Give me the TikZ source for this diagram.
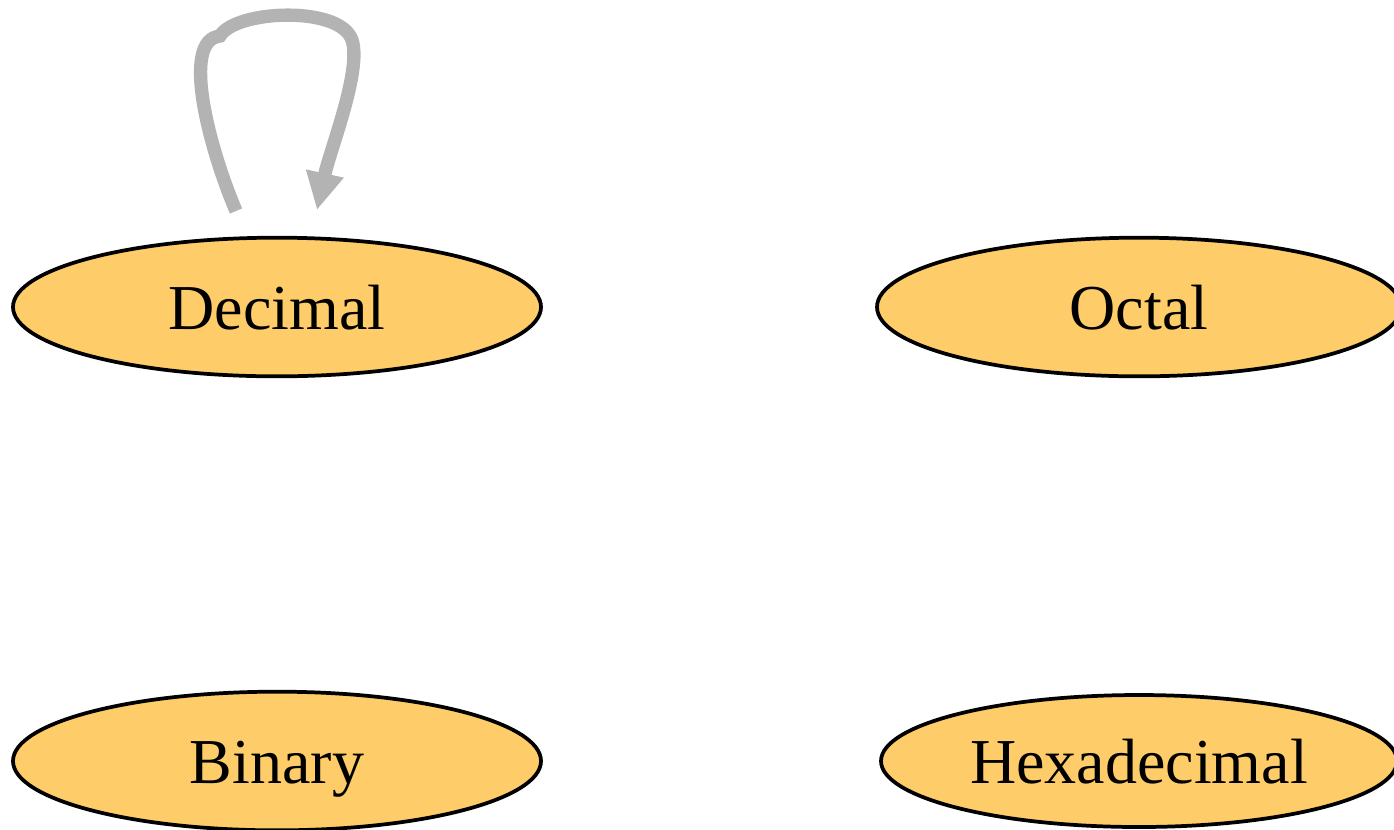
\documentclass[tikz,border=0pt]{standalone}
\usepackage{fontspec}
\setmainfont{Liberation Serif}
\usetikzlibrary{shapes.geometric,arrows.meta}
\definecolor{nodefill}{RGB}{254,204,104}
\definecolor{loopgray}{RGB}{179,179,179}
\tikzset{
  state/.style={ellipse, draw=black, fill=nodefill, line width=2.8pt, inner sep=0pt,
    text height=40pt, text depth=6.2pt,
    font=\fontsize{48}{56}\selectfont},
  loopline/.style={draw=loopgray, line width=10pt,
    -{Triangle[length=28pt,width=27pt]}}
}
\begin{document}
\begin{tikzpicture}[x=0.75pt,y=-0.75pt]
\useasboundingbox (0,0) rectangle (1394,829);
\node[state, minimum width=396pt, minimum height=104pt] (dec) at (277,307) {Decimal};
\node[state, minimum width=393pt, minimum height=104pt] (oct) at (1139,307) {Octal};
\node[state, minimum width=396pt, minimum height=104pt] (bin) at (277,761) {Binary};
\node[state, minimum width=387pt, minimum height=99pt] (hex) at (1139,761) {Hexadecimal};
\coordinate (loopstart) at (236,211);
\coordinate (loopend) at (317,210);
\draw[loopline] (loopstart) .. controls (210,150) and (180,40) .. (220,36)
  .. controls (235,10) and (340,5) .. (352,40)
  .. controls (362,70) and (330,150) .. (loopend);
\end{tikzpicture}
\end{document}
